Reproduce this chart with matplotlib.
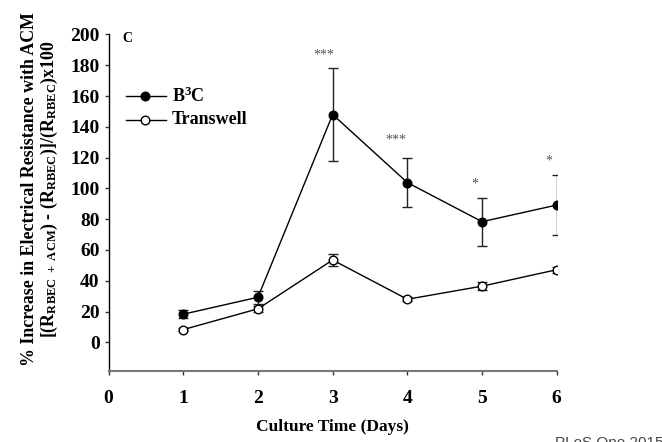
import numpy as np
import matplotlib.pyplot as plt

plt.rcParams['font.family'] = 'Liberation Serif'
plt.rcParams['mathtext.fontset'] = 'custom'
plt.rcParams['mathtext.rm'] = 'Liberation Serif:bold'
plt.rcParams['mathtext.it'] = 'Liberation Serif:bold'
plt.rcParams['mathtext.bf'] = 'Liberation Serif:bold'

# data
days = [1, 2, 3, 4, 5, 6]
b3c = [18.3, 29.3, 148.0, 103.8, 78.4, 89.2]
b3c_err = [2.5, 4.3, 30.3, 16.0, 15.5, 19.7]
transwell = [8.3, 21.8, 53.5, 28.0, 36.5, 47.2]
transwell_err = [1.0, 2.0, 4.0, 1.3, 2.5, 2.0]

# significance marks: (day, height, text)
sig_x = [2.88, 3.84, 4.91, 5.9]
sig_y = [186.5, 131.5, 103.0, 117.8]
sig_txt = ['***', '***', '*', '*']

fig = plt.figure(figsize=(6.62, 4.42), dpi=100)
ax = fig.add_axes([0.164, 0.161, 0.677, 0.761])

err_kw = dict(ecolor='#222222', elinewidth=1.0, capsize=3.5, capthick=1.0)
ax.errorbar(days, b3c, yerr=b3c_err, color='black', lw=1.0, marker='o',
            ms=6.2, mfc='black', mec='black', **err_kw, zorder=3)
ax.errorbar(days, transwell, yerr=transwell_err, color='black', lw=1.0, marker='o',
            ms=6.2, mfc='white', mec='black', mew=1.0, **err_kw, zorder=3)

for x, y, t in zip(sig_x, sig_y, sig_txt):
    ax.text(x, y, t, ha='center', va='center', fontsize=10, color='#555555')

# legend drawn by hand inside the axes
ax.plot([0.234, 0.77], [160, 160], color='black', lw=1.0)
ax.plot([0.49], [160], 'o', ms=6.2, mfc='black', mec='black')
ax.text(0.846, 160, r'B$^{3}$C', fontsize=13, fontweight='bold', va='center')
ax.plot([0.234, 0.77], [144.5, 144.5], color='black', lw=1.0)
ax.plot([0.49], [144.5], 'o', ms=6.2, mfc='white', mec='black')
ax.text(0.846, 144.5, 'Transwell', fontsize=13, fontweight='bold', va='center')

ax.text(0.18, 197.5, 'C', fontsize=10, fontweight='bold', va='center')

ax.set_xlim(0, 6)
ax.set_ylim(-18.5, 200)
ax.set_xticks(range(0, 7))
ax.set_yticks(range(0, 201, 20))
ax.spines['top'].set_visible(False)
ax.spines['right'].set_visible(False)
ax.spines['left'].set_color('black')
ax.spines['left'].set_linewidth(1.0)
ax.spines['bottom'].set_color('#777777')
ax.spines['bottom'].set_linewidth(1.5)
ax.tick_params(direction='out', length=3, width=1, color='#333333', labelsize=14)
ax.tick_params(axis='y', pad=3.5)
ax.tick_params(axis='x', pad=10.5)
for lab in ax.get_xticklabels() + ax.get_yticklabels():
    lab.set_fontweight('bold')

ax.set_xlabel('Culture Time (Days)', fontsize=12.5, fontweight='bold', labelpad=9)

fig.text(0.045, 0.572, '% Increase in Electrical Resistance with ACM', rotation=90,
         ha='center', va='center', fontsize=12.9, fontweight='bold')
fig.text(0.075, 0.572,
         r'[(R$_{\mathrm{RBEC\ +\ ACM}}$) - (R$_{\mathrm{RBEC}}$)]/(R$_{\mathrm{RBEC}}$)x100',
         rotation=90, ha='center', va='center', fontsize=12.9, fontweight='bold')

fig.text(555 / 662, 1 - 436 / 442, 'PLoS One 2015', fontsize=11, color='#444444',
         family='Liberation Sans', ha='left', va='top')

fig.savefig('out.png', dpi=100)
